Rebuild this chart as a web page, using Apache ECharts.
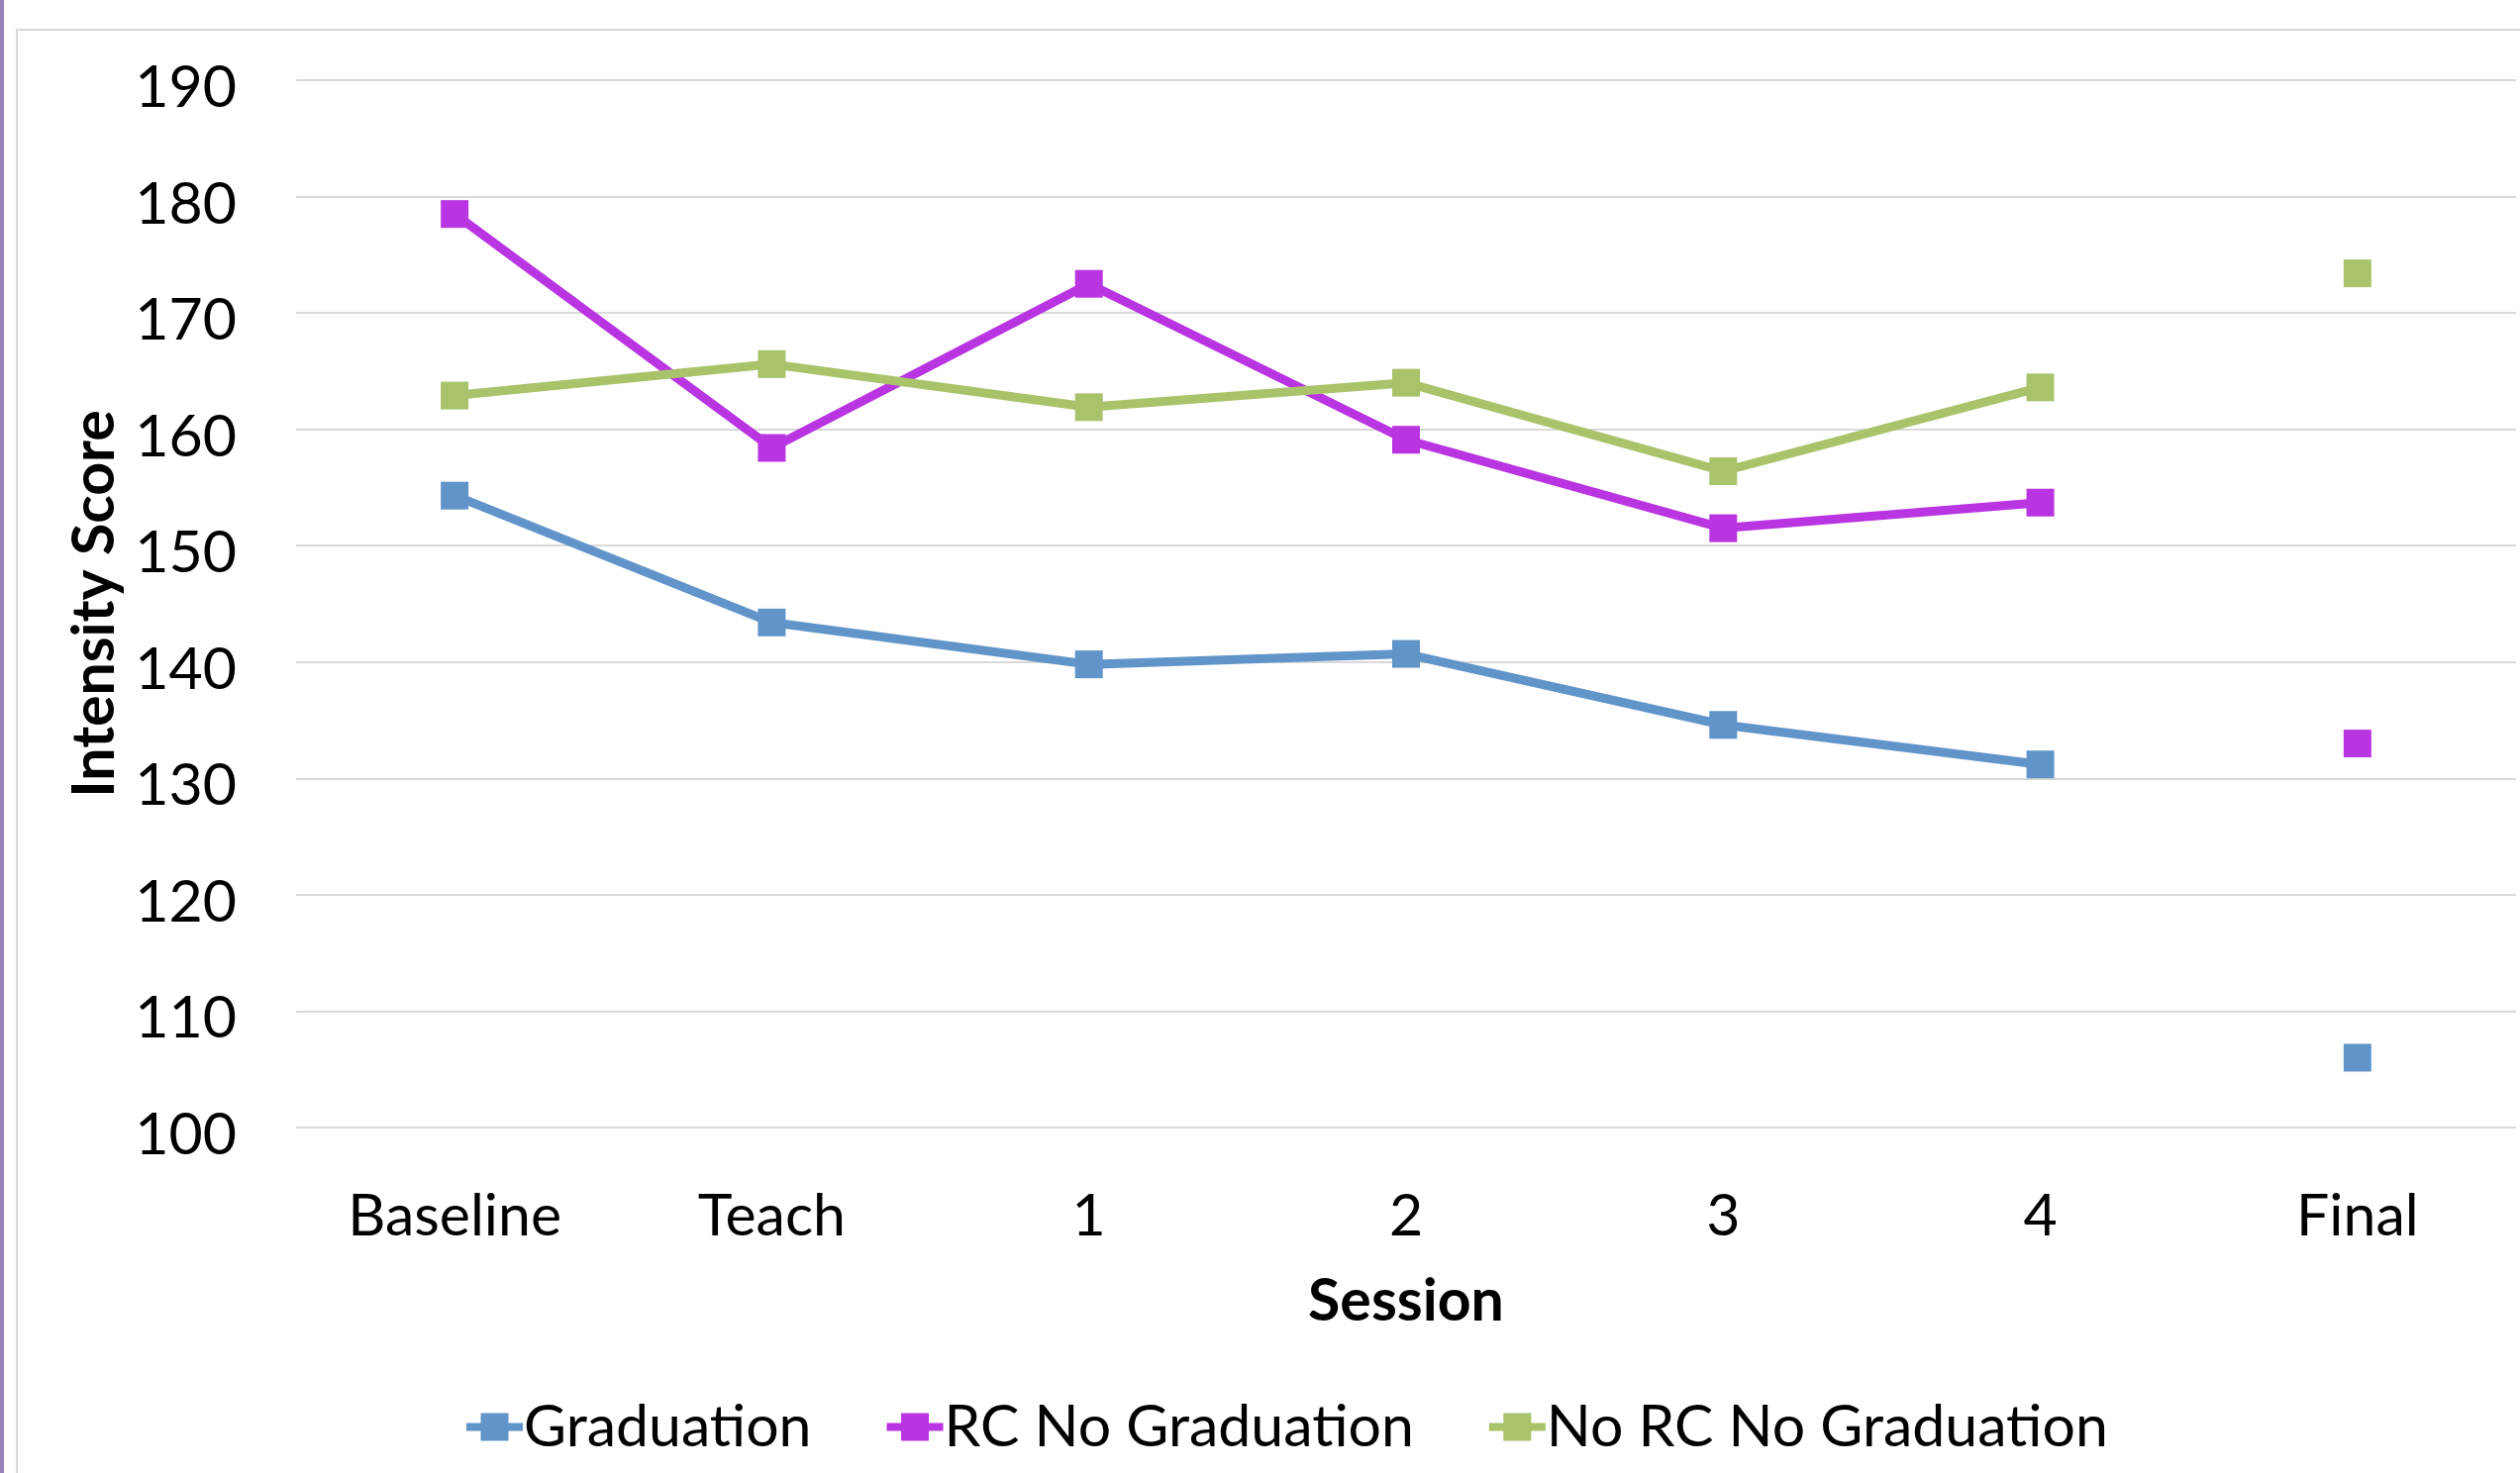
<!DOCTYPE html>
<html>
<head>
<meta charset="utf-8">
<title>Intensity Score by Session</title>
<script src="https://cdn.jsdelivr.net/npm/echarts@6/dist/echarts.min.js"></script>
<style>
  html, body { margin: 0; padding: 0; background: #ffffff; }
  #chart { width: 2545px; height: 1488px; }
</style>
</head>
<body>
<div id="chart"></div>
<script>
// Session categories along the x axis
const sessions = ['Baseline', 'Teach', '1', '2', '3', '4', 'Final'];

// Mean intensity score per session for each group
const graduation = [154.3, 143.4, 139.8, 140.7, 134.6, 131.2, 106.0];
const rcNoGraduation = [178.5, 158.4, 172.5, 159.1, 151.5, 153.7, 133.0];
const noRcNoGraduation = [162.9, 165.6, 161.9, 164.0, 156.4, 163.6, 173.4];

const seriesNames = ['Graduation', 'RC No Graduation', 'No RC No Graduation'];
const seriesColors = ['#6194c8', '#b935e1', '#a9c36b'];
const seriesValues = [graduation, rcNoGraduation, noRcNoGraduation];

const FONT = 'Lato';
const FS = 59;

// The Final session is plotted as a stand-alone marker, not joined to session 4
const lastIdx = sessions.length - 1;
const series = [];
seriesValues.forEach((vals, i) => {
  const common = {
    name: seriesNames[i],
    type: 'line',
    symbol: 'rect',
    symbolSize: 28,
    showAllSymbol: true,
    color: seriesColors[i],
    itemStyle: { color: seriesColors[i] },
    lineStyle: { width: 9, color: seriesColors[i] },
    emphasis: { disabled: true },
    animation: false,
    z: 2 + i
  };
  series.push(Object.assign({}, common, {
    data: vals.map((v, k) => (k < lastIdx ? v : null))
  }));
  series.push(Object.assign({}, common, {
    data: vals.map((v, k) => (k === lastIdx ? v : null))
  }));
});

const chart = echarts.init(document.getElementById('chart'), null, { renderer: 'canvas' });
chart.setOption({
  backgroundColor: '#ffffff',
  animation: false,
  textStyle: { fontFamily: FONT, color: '#000000' },
  graphic: [
    // chart frame
    { type: 'rect', shape: { x: 17, y: 30, width: 2700, height: 1600 },
      style: { fill: 'none', stroke: '#d9d9d9', lineWidth: 2 }, z: -1 },
    // side accent bar
    { type: 'rect', shape: { x: 0, y: 0, width: 4, height: 1488 },
      style: { fill: '#9a80b9' }, z: 10 },
    // title descender peeking in at the top edge
    { type: 'text', x: 111, y: -2,
      style: { text: 'g', font: 'bold 59px ' + FONT, fill: '#000000',
               textAlign: 'center', textVerticalAlign: 'bottom' }, z: 10 }
  ],
  grid: { left: 299, right: 4, top: 81, bottom: 349, containLabel: false },
  legend: {
    data: seriesNames,
    left: 462,
    top: 1407,
    itemWidth: 57,
    itemHeight: 35,
    itemGap: 72,
    lineStyle: { width: 8 },
    textStyle: { fontFamily: FONT, fontSize: 59, color: '#000000', padding: [0, 0, 0, -4] },
    selectedMode: false
  },
  xAxis: {
    type: 'category',
    data: sessions,
    boundaryGap: true,
    name: 'Session',
    nameLocation: 'middle',
    nameGap: 146,
    nameTextStyle: { fontFamily: FONT, fontSize: FS, fontWeight: 'bold', color: '#000000' },
    axisLine: { show: false },
    axisTick: { show: false },
    axisLabel: { fontFamily: FONT, fontSize: FS, color: '#000000', margin: 60 },
    splitLine: { show: false }
  },
  yAxis: {
    type: 'value',
    min: 100,
    max: 190,
    interval: 10,
    name: 'Intensity Score',
    nameLocation: 'middle',
    nameGap: 167,
    nameRotate: 90,
    nameTextStyle: { fontFamily: FONT, fontSize: FS, fontWeight: 'bold', color: '#000000' },
    axisLine: { show: false },
    axisTick: { show: false },
    axisLabel: {
      margin: 60,
      formatter: '{v|{value}}',
      rich: { v: { fontFamily: FONT, fontSize: FS, color: '#000000', padding: [16, 0, 0, 0] } }
    },
    splitLine: { show: true, lineStyle: { color: '#d9d9d9', width: 2 } }
  },
  series: series
});
</script>
</body>
</html>
